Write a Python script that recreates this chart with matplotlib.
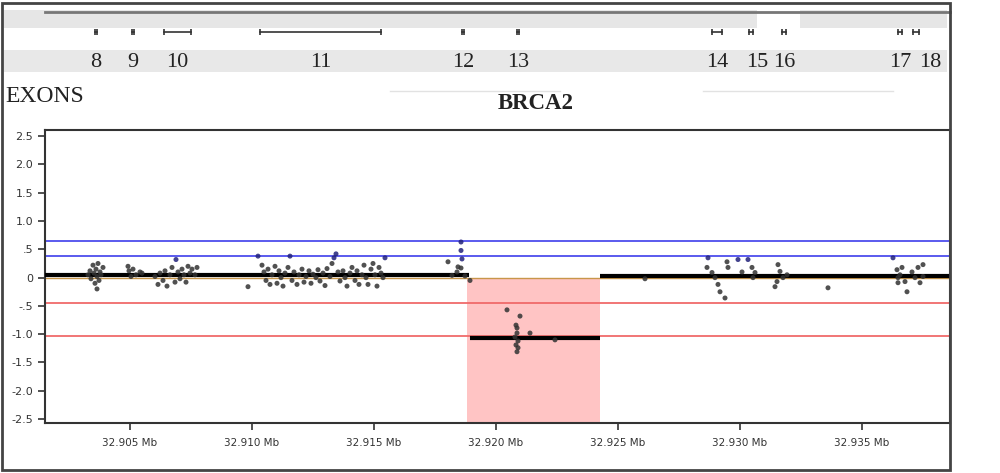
import matplotlib
matplotlib.use("Agg")
import matplotlib.pyplot as plt
import matplotlib.transforms as mtransforms
from matplotlib.patches import Rectangle
from matplotlib.lines import Line2D

# exons of BRCA2 (genomic position, bp)
exon_names = ['8', '9', '10', '11', '12', '13', '14', '15', '16', '17', '18']
exon_start = [32903565, 32905082, 32906394, 32910330, 32918612, 32920867,
              32928862, 32930379, 32931732, 32936488, 32937103]
exon_end = [32903647, 32905164, 32907501, 32915291, 32918694, 32920949,
            32929272, 32930543, 32931896, 32936652, 32937349]

# probe log2 ratios
probe_pos = [
    # exon 8
    32903278, 32903360, 32903401, 32903483, 32903524, 32903565, 32903606,
    32903647, 32903647, 32903688, 32903729, 32903770, 32903811, 32903893,
    # exon 9
    32904918, 32904959, 32905041, 32905123, 32905246, 32905410, 32905492,
    # exon 10
    32906025, 32906148, 32906230, 32906353, 32906435, 32906517, 32906640,
    32906722, 32906845, 32906886, 32906968, 32907050, 32907132, 32907214,
    32907296, 32907378, 32907460, 32907542, 32907665, 32907747,
    32909838,
    # exon 11
    32910248, 32910412, 32910494, 32910576, 32910658, 32910740, 32910822,
    32910945, 32911027, 32911109, 32911191, 32911273, 32911355, 32911478,
    32911560, 32911642, 32911724, 32911847, 32911929, 32912052, 32912134,
    32912216, 32912339, 32912421, 32912503, 32912626, 32912708, 32912790,
    32912913, 32912995, 32913077, 32913200, 32913282, 32913364, 32913446,
    32913528, 32913610, 32913733, 32913815, 32913897, 32914020, 32914102,
    32914225, 32914307, 32914389, 32914512, 32914594, 32914676, 32914758,
    32914881, 32914963, 32915045, 32915127, 32915209, 32915291, 32915373,
    32915455,
    # exon 12
    32918038, 32918202, 32918407, 32918448, 32918571, 32918571, 32918571,
    32918612, 32918735, 32918940,
    # deleted region (exon 13)
    32920457, 32920990, 32920826, 32920867, 32920867, 32920785, 32920908,
    32920826, 32920908, 32920867, 32921400, 32922425,
    32926115,
    # exons 14-16
    32928657, 32928698, 32928862, 32928985, 32929108, 32929190, 32929395,
    32929477, 32929518, 32929928, 32930092, 32930338, 32930502, 32930543,
    32930625, 32931445, 32931527, 32931568, 32931650, 32931773, 32931937,
    32933618,
    # exons 17-18
    32936283, 32936447, 32936488, 32936570, 32936652, 32936775, 32936857,
    32937062, 32937185, 32937308, 32937390, 32937513, 32937513, 32936488,
]
probe_ratio = [
    0.05, 0.12, -0.02, 0.22, 0.08, -0.10, 0.15,
    0.02, -0.20, 0.25, -0.05, 0.10, 0.05, 0.18,
    0.20, 0.12, 0.02, 0.15, 0.05, 0.10, 0.08,
    0.02, -0.12, 0.08, -0.05, 0.12, -0.15, 0.05,
    0.18, -0.08, 0.32, 0.10, -0.02, 0.15, 0.05,
    -0.08, 0.20, 0.08, 0.15, 0.05, 0.18,
    -0.16,
    0.38, 0.22, 0.10, -0.05, 0.15, -0.12, 0.05,
    0.20, -0.10, 0.12, 0.00, -0.15, 0.08, 0.18,
    0.38, -0.05, 0.10, -0.12, 0.05, 0.15, -0.08,
    0.02, 0.12, -0.10, 0.06, 0.00, 0.14, -0.06,
    0.08, -0.14, 0.16, 0.02, 0.25, 0.35, 0.42,
    0.10, -0.06, 0.12, 0.00, -0.15, 0.08, 0.18,
    -0.05, 0.12, -0.12, 0.05, 0.22, 0.00, -0.12,
    0.15, 0.25, 0.05, -0.15, 0.18, 0.08, 0.00,
    0.35,
    0.28, 0.04, 0.10, 0.19, 0.63, 0.48, 0.17,
    0.33, 0.03, -0.05,
    -0.57, -0.68, -0.84, -0.89, -0.98, -1.05, -1.12,
    -1.19, -1.24, -1.31, -0.98, -1.10,
    -0.02,
    0.18, 0.35, 0.09, 0.00, -0.12, -0.25, -0.36,
    0.28, 0.18, 0.32, 0.10, 0.32, 0.18, 0.00,
    0.09, -0.16, -0.07, 0.23, 0.11, 0.00, 0.05,
    -0.18,
    0.35, 0.14, 0.00, 0.05, 0.18, -0.07, -0.25,
    0.10, 0.00, 0.18, -0.09, 0.23, 0.02, -0.09,
]

# segmentation calls
seg_start = [32901515, 32918960, 32924270]
seg_end = [32918900, 32924260, 32938620]
seg_value = [0.04, -1.06, 0.03]

gain_lines = [0.64, 0.39]
loss_lines = [-0.45, -1.04]

xticks = [32905000, 32910000, 32915000, 32920000, 32925000, 32930000, 32935000]
yticks = [-2.5, -2.0, -1.5, -1.0, -0.5, 0, 0.5, 1.0, 1.5, 2.0, 2.5]
ytick_labels = ['-2.5', '-2.0', '-1.5', '-1.0', '-.5', '0', '.5', '1.0', '1.5', '2.0', '2.5']

fig = plt.figure(figsize=(10, 4.73), dpi=100)
ax = fig.add_axes([0.045, 0.1057, 0.905, 0.6195])

# deleted region shading
ax.axvspan(seg_start[1] - 140, seg_end[1] + 10, ymin=0, ymax=2.57 / 5.18,
           color='#ffc4c4', lw=0, zorder=0)
ax.axhline(0, color='#c8964a', lw=1.0, zorder=1)

for v in gain_lines:
    ax.axhline(v, color='#5a5aee', lw=1.4, zorder=2)
for v in loss_lines:
    ax.axhline(v, color='#f06a6a', lw=1.3, zorder=2)

for s, e, v in zip(seg_start, seg_end, seg_value):
    ax.plot([s, e], [v, v], color='black', lw=3, solid_capstyle='butt', zorder=3)

cols = ['#22227a' if r > 0.3 else '#333333' for r in probe_ratio]
ax.scatter(probe_pos, probe_ratio, s=13, c=cols, alpha=0.85, lw=0, zorder=4)

ax.set_xlim(32901515, 32938620)
ax.set_ylim(-2.57, 2.61)
ax.set_xticks(xticks)
ax.set_xticklabels(['%.3f Mb' % (t / 1e6) for t in xticks], fontsize=7.5, color='#333333')
ax.set_yticks(yticks)
ax.set_yticklabels(ytick_labels, fontsize=8, color='#333333')
ax.tick_params(direction='out', length=5, width=1.2, color='#333333')
ax.tick_params(axis='x', pad=6)
for sp in ax.spines.values():
    sp.set_color('#333333')
    sp.set_linewidth(1.5)

# exon track above the plot (x in genome coords, y in figure coords)
trans = mtransforms.blended_transform_factory(ax.transData, fig.transFigure)

fig.patches.append(Rectangle((0.004, 0.9408), 0.753, 0.0381, transform=fig.transFigure,
                             color='#e6e6e6', lw=0, zorder=-1))
fig.patches.append(Rectangle((0.800, 0.9408), 0.147, 0.0381, transform=fig.transFigure,
                             color='#e6e6e6', lw=0, zorder=-1))
fig.patches.append(Rectangle((0.004, 0.8478), 0.943, 0.0465, transform=fig.transFigure,
                             color='#e8e8e8', lw=0, zorder=-1))
fig.lines.append(Line2D([0.045, 0.95], [0.9746, 0.9746], transform=fig.transFigure,
                        color='#777777', lw=2))
fig.lines.append(Line2D([0.39, 0.56], [0.8076, 0.8076], transform=fig.transFigure,
                        color='#e2e2e2', lw=1))
fig.lines.append(Line2D([0.703, 0.893], [0.8076, 0.8076], transform=fig.transFigure,
                        color='#e2e2e2', lw=1))

label_nudge = {'15': 250, '18': 570}
for name, s, e in zip(exon_names, exon_start, exon_end):
    ax.plot([s, e], [0.9323, 0.9323], transform=trans, clip_on=False, color='#333333',
            lw=1.2, marker='|', markersize=5, mew=1.2)
    ax.text((s + e) / 2 + label_nudge.get(name, 0), 0.8689, name, transform=trans,
            ha='center', va='center', fontsize=16, family='Liberation Serif',
            color='#222222', clip_on=False, zorder=5)

fig.text(0.005, 0.795, 'EXONS', ha='left', va='center', fontsize=17,
         family='Liberation Serif', color='#222222')
fig.text(0.536, 0.782, 'BRCA2', ha='center', va='center', fontsize=16.5,
         family='Liberation Serif', weight='bold', color='#222222')

# outer frame
fig.patches.append(Rectangle((0.002, 0.006), 0.948, 0.988, transform=fig.transFigure,
                             fill=False, edgecolor='#444444', lw=2, zorder=10))

fig.savefig('out.png', dpi=100)
